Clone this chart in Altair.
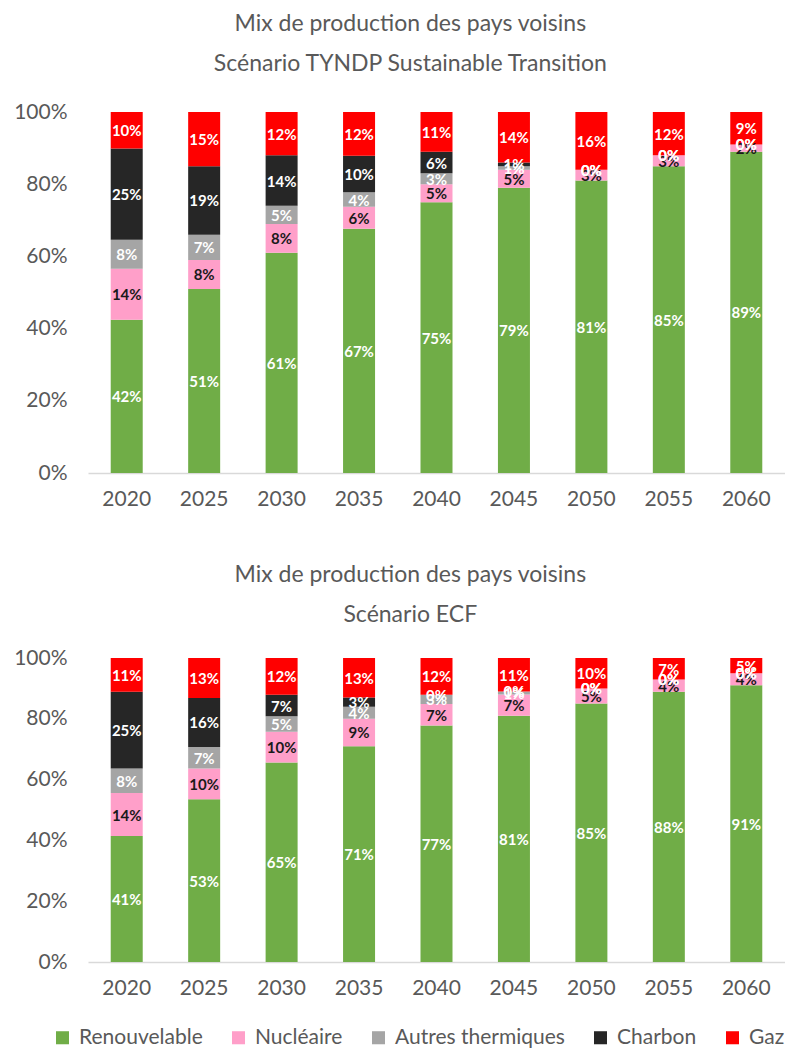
import altair as alt
import pandas as pd

years = ["2020", "2025", "2030", "2035", "2040", "2045", "2050", "2055", "2060"]
categories = ["Renouvelable", "Nucléaire", "Autres thermiques", "Charbon", "Gaz"]
colors = ["#70AD47", "#FF9FC9", "#A5A5A5", "#262626", "#FF0000"]

tyndp_renouvelable = [42, 51, 61, 67, 75, 79, 81, 85, 89]
tyndp_nucleaire = [14, 8, 8, 6, 5, 5, 3, 3, 2]
tyndp_autres = [8, 7, 5, 4, 3, 1, 0, 0, 0]
tyndp_charbon = [25, 19, 14, 10, 6, 1, 0, 0, 0]
tyndp_gaz = [10, 15, 12, 12, 11, 14, 16, 12, 9]

ecf_renouvelable = [41, 53, 65, 71, 77, 81, 85, 88, 91]
ecf_nucleaire = [14, 10, 10, 9, 7, 7, 5, 4, 4]
ecf_autres = [8, 7, 5, 4, 3, 1, 0, 0, 0]
ecf_charbon = [25, 16, 7, 3, 0, 0, 0, 0, 0]
ecf_gaz = [11, 13, 12, 13, 12, 11, 10, 7, 5]

title_top = ["Mix de production des pays voisins", "Scénario TYNDP Sustainable Transition"]
title_bottom = ["Mix de production des pays voisins", "Scénario ECF"]

FONT = "Lato"
GREY = "#595959"


def make_df(series):
    rows = []
    for idx, (cat, vals) in enumerate(zip(categories, series)):
        for y, v in zip(years, vals):
            rows.append({"year": y, "cat": cat, "idx": idx, "value": v})
    return pd.DataFrame(rows)


df_top = make_df([tyndp_renouvelable, tyndp_nucleaire, tyndp_autres, tyndp_charbon, tyndp_gaz])
df_bot = make_df([ecf_renouvelable, ecf_nucleaire, ecf_autres, ecf_charbon, ecf_gaz])


def panel(df, title, height, title_offset):
    base = (
        alt.Chart(df)
        .transform_joinaggregate(total="sum(value)", groupby=["year"])
        .transform_calculate(share="datum.value / datum.total", label="datum.value + '%'")
    )
    x = alt.X(
        "year:N",
        sort=years,
        title=None,
        axis=alt.Axis(
            labelAngle=0, ticks=False, domain=True, domainColor="#D9D9D9",
            domainWidth=1.5, labelPadding=15, grid=False,
        ),
    )
    bars = base.mark_bar(size=32).encode(
        x=x,
        y=alt.Y(
            "share:Q",
            stack="zero",
            title=None,
            scale=alt.Scale(domain=[0, 1], nice=False),
            axis=alt.Axis(
                values=[0, 0.2, 0.4, 0.6, 0.8, 1.0], format=".0%", domain=False,
                ticks=False, grid=False, labelPadding=21,
            ),
        ),
        color=alt.Color(
            "cat:N",
            scale=alt.Scale(domain=categories, range=colors),
            legend=alt.Legend(
                title=None, orient="none", direction="horizontal",
                legendX=-36, legendY=915, symbolType="square",
                symbolSize=170, symbolStrokeWidth=0, labelOffset=6,
                columnPadding=25, labelFontSize=21, labelFont=FONT,
                labelColor=GREY, labelLimit=400,
            ),
        ),
        order=alt.Order("idx:Q", sort="ascending"),
    )
    text = (
        base.transform_stack(
            stack="share", groupby=["year"], as_=["s0", "s1"],
            sort=[alt.SortField("idx", order="ascending")],
        )
        .transform_calculate(mid="(datum.s0 + datum.s1) / 2")
        .mark_text(font=FONT, fontSize=15, fontWeight="bold", baseline="middle", dy=1)
        .encode(
            x=x,
            y=alt.Y("mid:Q", scale=alt.Scale(domain=[0, 1], nice=False)),
            text="label:N",
            color=alt.condition(
                "datum.cat == 'Nucléaire'", alt.value("#1A1A1A"), alt.value("white")
            ),
        )
    )
    return alt.layer(bars, text).properties(
        width=697,
        height=height,
        title=alt.Title(
            title, fontSize=23, font=FONT, color=GREY, fontWeight="normal",
            lineHeight=40, anchor="middle", frame="bounds", offset=title_offset, dx=11,
        ),
    )


chart = (
    alt.vconcat(
        panel(df_top, title_top, 361, 25),
        panel(df_bot, title_bottom, 304, 20),
        spacing=55,
    )
    .properties(padding={"left": 5, "top": 5, "right": 0, "bottom": 0})
    .configure_view(stroke=None)
    .configure_axis(labelFont=FONT, labelFontSize=21, labelColor=GREY)
)

chart.save("out.html", embed_options={"renderer": "svg", "actions": False})
